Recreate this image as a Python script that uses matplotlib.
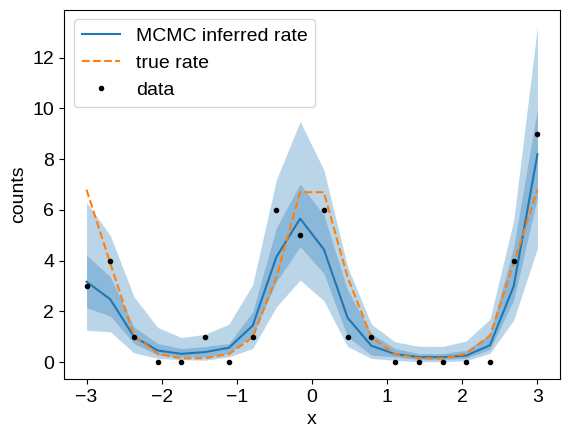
import numpy as np
import matplotlib
matplotlib.use("Agg")
import matplotlib.pyplot as plt

plt.rcParams['font.family'] = ['Liberation Sans', 'DejaVu Sans']
plt.rcParams['font.size'] = 14

x = np.linspace(-3, 3, 20)
data = [3, 4, 1, 0, 0, 1, 0, 1, 6, 5, 6, 1, 1, 0, 0, 0, 0, 0, 4, 9]
true_rate = [6.8, 3.9, 1.05, 0.33, 0.15, 0.16, 0.32, 0.98, 3.35, 6.7,
             6.7, 3.35, 0.98, 0.32, 0.16, 0.15, 0.33, 1.05, 3.9, 6.8]
mcmc_mean = [3.17, 2.48, 1.0, 0.46, 0.33, 0.4, 0.57, 1.44, 4.15, 5.66,
             4.45, 1.75, 0.65, 0.32, 0.2, 0.2, 0.26, 0.67, 3.0, 8.2]
inner_lo = [2.15, 1.82, 0.74, 0.28, 0.21, 0.21, 0.34, 1.08, 3.17, 4.55,
            3.5, 1.0, 0.28, 0.21, 0.1, 0.1, 0.16, 0.5, 2.45, 6.5]
inner_hi = [4.22, 3.37, 1.39, 0.74, 0.54, 0.62, 0.74, 1.99, 5.3, 7.03,
            5.8, 2.84, 1.13, 0.54, 0.34, 0.34, 0.47, 1.1, 4.55, 10.0]
outer_lo = [1.26, 1.2, 0.37, 0.15, 0.1, 0.08, 0.21, 0.54, 2.18, 3.24,
            2.42, 0.62, 0.15, 0.07, 0.02, 0.02, 0.06, 0.35, 1.66, 4.49]
outer_hi = [6.3, 5.0, 2.58, 1.37, 0.97, 1.1, 1.5, 3.06, 7.19, 9.49,
            7.58, 3.76, 1.5, 0.8, 0.63, 0.62, 0.84, 1.7, 5.6, 13.24]

fig = plt.figure(figsize=(5.7, 4.38), dpi=100)
ax = fig.add_axes([64/570, (438-379)/438, 496/570, 369.5/438])

ax.fill_between(x, outer_lo, outer_hi, color='C0', alpha=0.3, linewidth=0)
ax.fill_between(x, inner_lo, inner_hi, color='C0', alpha=0.3, linewidth=0)
ax.plot(x, mcmc_mean, color='C0', label='MCMC inferred rate')
ax.plot(x, true_rate, '--', color='C1', label='true rate')
ax.plot(x, data, 'k.', label='data')

ax.set_xlabel('x')
ax.set_ylabel('counts')
ax.legend(loc='upper left')

fig.savefig('out.png', dpi=100)
